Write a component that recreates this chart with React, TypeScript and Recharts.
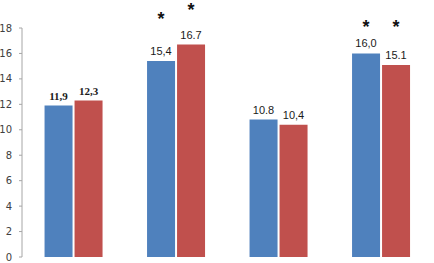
import React from 'react';
import { BarChart, Bar, XAxis, YAxis, LabelList } from 'recharts';

const categories = ['A', 'B', 'C', 'D'];
const seriesBlue = [11.9, 15.4, 10.8, 16.0];
const seriesRed = [12.3, 16.7, 10.4, 15.1];
const labelsBlue = ['11,9', '15,4', '10.8', '16,0'];
const labelsRed = ['12,3', '16.7', '10,4', '15.1'];
// asterisk levels (in value units); null = no asterisk
const starBlue: (number | null)[] = [null, 19.0, null, 18.4];
const starRed: (number | null)[] = [null, 19.7, null, 18.4];
const yTicks = [0, 2, 4, 6, 8, 10, 12, 14, 16, 18];
const gridTicks = [0, 1, 2, 3, 4];

const data = categories.map((c, i) => ({
  cat: c,
  blue: seriesBlue[i],
  red: seriesRed[i],
  idx: i,
}));

const makeLabel = (labels: string[], stars: (number | null)[]) => (props: any) => {
  const { x, y, width, height, index, value } = props;
  const cx = x + width / 2;
  const serif = index === 0;
  const pxPerUnit = height / value;
  const star = stars[index];
  return (
    <g>
      <text
        x={cx}
        y={y - 6}
        textAnchor="middle"
        fontSize={11}
        fontWeight={serif ? 'bold' : 'normal'}
        fontFamily={serif ? 'Liberation Serif, serif' : 'Liberation Sans, Arial, sans-serif'}
        fill="#1a1a1a"
      >
        {labels[index]}
      </text>
      {star != null && (
        <text
          x={cx}
          y={y + height - star * pxPerUnit + 10}
          textAnchor="middle"
          fontSize={18}
          fontWeight="bold"
          fontFamily="Liberation Sans, Arial, sans-serif"
          fill="#111"
        >
          *
        </text>
      )}
    </g>
  );
};

export default function App() {
  return (
    <div style={{ position: 'absolute', left: 0, top: 0, background: '#fff' }}>
      <BarChart
        width={434}
        height={263}
        data={data}
        margin={{ top: 28, right: 2, bottom: 0, left: 0 }}
        barCategoryGap="22%"
        barGap={2}
      >
        <XAxis dataKey="cat" xAxisId="cat" hide />
        <XAxis
          xAxisId="grid"
          type="number"
          domain={[0, 4]}
          ticks={gridTicks}
          height={6}
          tickSize={4}
          tickFormatter={() => ''}
          axisLine={{ stroke: '#a6a6a6' }}
          tickLine={{ stroke: '#a6a6a6' }}
          allowDataOverflow
        />
        <YAxis
          domain={[0, 18]}
          ticks={yTicks}
          width={22}
          tickSize={3}
          tickMargin={7}
          axisLine={{ stroke: '#a6a6a6' }}
          tickLine={{ stroke: '#a6a6a6' }}
          tick={{ fontSize: 10, fill: '#404040', fontFamily: 'DejaVu Sans, sans-serif' }}
          interval={0}
        />
        <Bar dataKey="blue" xAxisId="cat" fill="#4F81BD" isAnimationActive={false}>
          <LabelList dataKey="blue" content={makeLabel(labelsBlue, starBlue)} />
        </Bar>
        <Bar dataKey="red" xAxisId="cat" fill="#C0504D" isAnimationActive={false}>
          <LabelList dataKey="red" content={makeLabel(labelsRed, starRed)} />
        </Bar>
      </BarChart>
    </div>
  );
}
